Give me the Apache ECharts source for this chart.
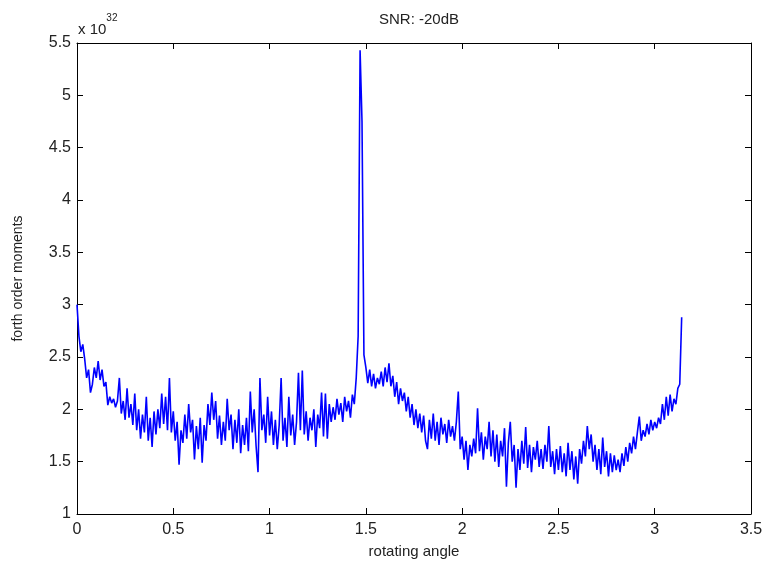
<!DOCTYPE html>
<html>
<head>
<meta charset="utf-8">
<script src="https://cdn.jsdelivr.net/npm/echarts@6/dist/echarts.min.js"></script>
<style>
html,body{margin:0;padding:0;background:#fff;}
#chart{width:766px;height:565px;}
</style>
</head>
<body>
<div id="chart"></div>
<script>
// Sampling step of rotating angle (rad)
const angleStep = 0.01;
// forth order moments (x 10^32), one per 0.01 rad from 0 to 3.14
const moments = [
3.00,2.70,2.55,2.62,2.48,2.30,2.38,2.16,2.24,2.40,
2.30,2.46,2.28,2.38,2.22,2.26,2.04,2.12,2.06,2.10,
2.02,2.08,2.30,1.96,2.08,1.90,2.20,1.92,2.05,1.85,
2.15,1.80,2.00,1.72,1.95,1.78,2.12,1.70,1.92,1.64,
1.98,1.76,2.00,1.82,2.15,1.86,2.12,1.80,2.30,1.78,
1.98,1.70,1.88,1.47,1.80,1.68,1.95,1.72,2.05,1.78,
1.90,1.52,1.84,1.62,1.92,1.49,1.85,1.70,2.05,1.85,
2.16,1.90,2.08,1.72,1.94,1.66,1.88,1.70,2.10,1.80,
1.95,1.62,1.90,1.68,2.00,1.58,1.85,1.66,1.92,1.60,
2.17,1.78,2.00,1.65,1.40,2.30,1.80,1.95,1.68,2.12,
1.75,1.98,1.66,1.90,1.62,1.85,2.30,1.70,1.92,1.64,
2.12,1.75,1.95,1.66,1.88,2.35,1.80,2.37,1.76,1.98,
1.70,1.92,1.80,2.00,1.64,1.95,1.82,2.16,1.74,2.15,
1.72,2.05,1.88,2.02,1.90,2.10,1.95,2.06,1.88,2.12,
1.98,2.08,1.92,2.14,2.05,2.30,2.70,5.43,4.75,2.52,
2.40,2.25,2.38,2.22,2.34,2.20,2.30,2.24,2.36,2.22,
2.40,2.26,2.44,2.22,2.32,2.12,2.26,2.05,2.20,2.08,
2.16,1.98,2.12,1.92,2.05,1.85,2.00,1.82,1.96,1.78,
1.94,1.70,1.62,1.90,1.72,1.96,1.70,1.88,1.66,1.92,
1.76,1.86,1.68,1.90,1.74,1.84,1.70,1.88,2.17,1.62,
1.74,1.52,1.70,1.42,1.66,1.55,1.72,1.58,2.01,1.60,
1.78,1.52,1.74,1.62,1.88,1.55,1.80,1.50,1.76,1.45,
1.70,1.55,1.82,1.26,1.68,1.88,1.50,1.66,1.25,1.62,
1.42,1.70,1.48,1.83,1.44,1.66,1.40,1.64,1.52,1.70,
1.45,1.62,1.43,1.66,1.50,1.84,1.45,1.60,1.38,1.62,
1.42,1.65,1.40,1.58,1.36,1.68,1.42,1.60,1.33,1.55,
1.29,1.62,1.48,1.70,1.55,1.84,1.62,1.76,1.50,1.66,
1.42,1.62,1.38,1.73,1.45,1.60,1.36,1.58,1.40,1.56,
1.42,1.52,1.40,1.58,1.46,1.64,1.50,1.68,1.58,1.74,
1.62,1.78,1.93,1.70,1.80,1.74,1.86,1.76,1.90,1.80,
1.88,1.82,1.92,1.86,2.05,1.90,2.12,1.94,2.14,1.98,
2.10,2.05,2.20,2.24,2.88
];
// Tick settings
const xTicks = {min: 0, max: 3.5, interval: 0.5};
const yTicks = {min: 1, max: 5.5, interval: 0.5};

const points = moments.map((v, i) => [Number((i * angleStep).toFixed(2)), v]);

const chart = echarts.init(document.getElementById('chart'), null, {renderer: 'canvas'});
const font = 'Liberation Sans, Arial, Helvetica, sans-serif';
const lineCol = '#000';
const baseAxis = {
  type: 'value',
  splitLine: {show: false},
  axisLine: {show: true, onZero: false, lineStyle: {color: lineCol, width: 1}},
  axisTick: {show: true, inside: true, length: 6, lineStyle: {color: lineCol, width: 1}},
};
chart.setOption({
  animation: false,
  backgroundColor: '#fff',
  title: {
    text: 'SNR: -20dB',
    left: 414, top: 7, textAlign: 'center',
    textStyle: {fontFamily: font, fontSize: 15, fontWeight: 'normal', color: '#222'}
  },
  grid: {left: 77, right: 15, top: 43, bottom: 51, containLabel: false},
  graphic: [{
    type: 'text', left: 78, top: 13,
    style: {
      text: '{a|x 10}{b|32}',
      rich: {
        a: {fontFamily: font, fontSize: 15, fill: '#222', verticalAlign: 'bottom', lineHeight: 24},
        b: {fontFamily: font, fontSize: 10, fill: '#222', verticalAlign: 'top', lineHeight: 24, padding: [0,0,10,0]}
      }
    }
  }],
  xAxis: [
    Object.assign({}, baseAxis, xTicks, {
      position: 'bottom',
      name: 'rotating angle', nameLocation: 'middle', nameGap: 30,
      nameTextStyle: {fontFamily: font, fontSize: 15, color: '#222'},
      axisLabel: {fontFamily: font, fontSize: 16, color: '#222', margin: 8}
    }),
    Object.assign({}, baseAxis, xTicks, {
      position: 'top', axisLabel: {show: false}
    })
  ],
  yAxis: [
    Object.assign({}, baseAxis, yTicks, {
      position: 'left',
      name: 'forth order moments', nameLocation: 'middle', nameGap: 52, nameRotate: 90,
      nameTextStyle: {fontFamily: font, fontSize: 14, color: '#222'},
      axisLabel: {fontFamily: font, fontSize: 16, color: '#222', margin: 6}
    }),
    Object.assign({}, baseAxis, yTicks, {
      position: 'right', axisLabel: {show: false}
    })
  ],
  series: [{
    type: 'line',
    xAxisIndex: 0, yAxisIndex: 0,
    data: points,
    showSymbol: false,
    symbol: 'none',
    lineStyle: {color: '#0000ff', width: 1.6},
    itemStyle: {color: '#0000ff'}
  }]
});
</script>
</body>
</html>
